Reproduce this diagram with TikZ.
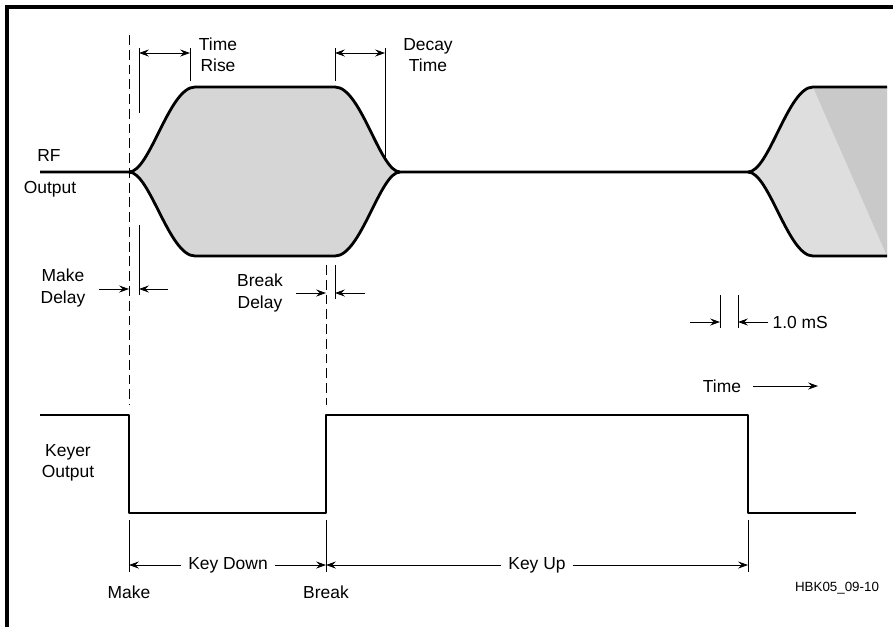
\documentclass[tikz,border=0pt]{standalone}
\usepackage{fontspec}
\setmainfont{Liberation Sans}
\usetikzlibrary{arrows.meta}

\begin{document}
\begin{tikzpicture}[x=0.025cm,y=-0.025cm,>={Stealth[length=7pt,width=5pt,inset=2.5pt]}]
  \tikzstyle{lbl}=[font=\fontsize{12.4}{15}\selectfont,align=center,inner sep=1pt]
  \tikzstyle{wave}=[line width=2pt,line join=round]
  \tikzstyle{guide}=[line width=0.6pt,dash pattern=on 7pt off 3.5pt]
  \tikzstyle{dim}=[line width=0.6pt]
  \useasboundingbox (0,0) rectangle (893,627);
  \draw[line width=2.2pt] (7,627) -- (7,7) -- (893,7);

  % RF envelope
  \fill[black!16] (129,172) .. controls (150,172) and (169,87) .. (195,87) -- (335,87)
    .. controls (361,87) and (380,172) .. (400,172)
    .. controls (380,172) and (361,256) .. (335,256) -- (195,256)
    .. controls (169,256) and (150,172) .. (129,172) -- cycle;
  \draw[wave] (40,172) -- (129,172) .. controls (150,172) and (169,87) .. (195,87) -- (335,87)
    .. controls (361,87) and (380,172) .. (400,172) -- (748,172);
  \draw[wave] (129,172) .. controls (150,172) and (169,256) .. (195,256) -- (335,256)
    .. controls (361,256) and (380,172) .. (400,172);
  \fill[black!13] (748,172) .. controls (769,172) and (788,87) .. (813,87) -- (887,87)
    -- (887,256) -- (813,256) .. controls (788,256) and (769,172) .. (748,172) -- cycle;
  \fill[black!21] (813,87) -- (887,87) -- (887,256) -- cycle;
  \draw[wave] (748,172) .. controls (769,172) and (788,87) .. (813,87) -- (887,87);
  \draw[wave] (748,172) .. controls (769,172) and (788,256) .. (813,256) -- (887,256);

  % keyer output
  \draw[wave] (40,415) -- (129,415) -- (129,513) -- (326,513) -- (326,415)
    -- (748,415) -- (748,513) -- (856,513);

  % make / break guides
  \coordinate (mk) at (129,565);
  \coordinate (bk) at (326,565);
  \coordinate (up) at (748,565);
  \draw[guide] (129,35) -- (129,405);
  \draw[guide] (326,265) -- (326,405);
  \draw[dim] (129,520) -- (129,572);
  \draw[dim] (326,520) -- (326,572);
  \draw[dim] (748,520) -- (748,572);

  % rise and decay time
  \draw[dim] (139,48) -- (139,113);
  \draw[dim] (190,48) -- (190,81);
  \draw[dim] (335,48) -- (335,81);
  \draw[dim] (385,48) -- (385,158);
  \coordinate (r1) at (139,53);
  \coordinate (r2) at (190,53);
  \coordinate (d1) at (335,53);
  \coordinate (d2) at (385,53);
  \draw[dim,<->] (r1) -- (r2);
  \draw[dim,<->] (d1) -- (d2);
  \node[lbl] (rise) at (218,55) {Time\\Rise};
  \node[lbl] (decay) at (428,55) {Decay\\Time};

  % delays
  \draw[dim] (139,225) -- (139,295);
  \draw[dim] (335,265) -- (335,299);
  \draw[dim,->] (99,289) -- (129,289);
  \draw[dim,->] (168,289) -- (139,289);
  \draw[dim,->] (296,293) -- (326,293);
  \draw[dim,->] (365,293) -- (335,293);
  \node[lbl] (mkdel) at (63,288) {Make\\Delay};
  \node[lbl] (bkdel) at (260,293) {Break\\Delay};

  % 1.0 mS scale
  \draw[dim] (720,295) -- (720,328);
  \draw[dim] (738,295) -- (738,328);
  \node[lbl,anchor=west] (ms) at (768,322) {\,1.0 mS};
  \draw[dim,->] (690,322) -- (720,322);
  \draw[dim,->] (ms.west) -- (738,322);

  \node[lbl] (rf) at (49,155) {RF};
  \node[lbl] (rfout) at (50,189) {Output};
  \node[lbl] (keyer) at (68,463) {Keyer\\Output};

  \node[lbl] (time) at (722,386) {Time};
  \coordinate (tend) at (818,386);
  \draw[dim,->] (753,386) -- (tend);

  % key down / key up
  \node[lbl,inner sep=5pt] (kd) at (228,565) {Key Down};
  \node[lbl,inner sep=5pt] (ku) at (537,565) {Key Up};
  \draw[dim,->] (kd.west) -- (mk);
  \draw[dim,->] (kd.east) -- (bk);
  \draw[dim,->] (ku.west) -- (bk);
  \draw[dim,->] (ku.east) -- (up);
  \node[lbl] (make) at (129,592) {Make};
  \node[lbl] (break) at (326,592) {Break};
  \node[font=\fontsize{9.5}{11}\selectfont] (fig) at (837,588) {HBK05\_09-10};
\end{tikzpicture}
\end{document}
